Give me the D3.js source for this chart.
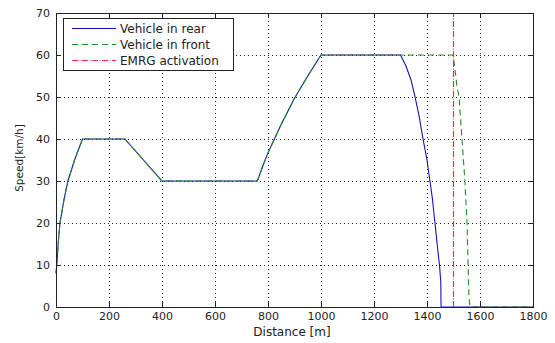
<!DOCTYPE html>
<html><head><meta charset="utf-8">
<script src="https://cdn.jsdelivr.net/npm/d3@7"></script>
<style>
html,body{margin:0;padding:0;background:#fff;}
svg{display:block;font-family:"DejaVu Sans",sans-serif;}
</style></head>
<body>
<svg id="chart" width="555" height="343"></svg>
<script>
// Data
const xTicks = [0, 200, 400, 600, 800, 1000, 1200, 1400, 1600, 1800];
const yTicks = [0, 10, 20, 30, 40, 50, 60, 70];

const rearDist  = [0, 3, 8, 15, 30, 45, 70, 100, 260, 330, 400, 760, 780, 800, 850, 900, 950, 1000, 1300, 1320, 1340, 1355, 1370, 1385, 1400, 1411, 1420, 1430, 1440, 1447, 1452, 1453, 1800];
const rearSpeed = [8, 10, 15, 20, 25.5, 30, 35, 40, 40, 35, 30, 30, 33.5, 36.7, 43.5, 49.7, 55, 60, 60, 57.5, 54, 50, 45.5, 40, 35, 30, 26, 20, 14, 10, 6, 0, 0];

const frontDist  = [0, 3, 8, 15, 30, 45, 70, 100, 260, 330, 400, 760, 780, 800, 850, 900, 950, 1000, 1498, 1505, 1512, 1521, 1532, 1543, 1551, 1555, 1558, 1562, 1800];
const frontSpeed = [8, 10, 15, 20, 25.5, 30, 35, 40, 40, 35, 30, 30, 33.5, 36.7, 43.5, 49.7, 55, 60, 60, 57, 53, 50, 40, 30, 20, 10, 3, 0, 0];

const emrgDist  = [1500, 1500];
const emrgSpeed = [0, 70];

const legendLabels = ["Vehicle in rear", "Vehicle in front", "EMRG activation"];

const colors = {rear: "#1414b4", front: "#1f8f1f", emrg: "#f03050"};

const svg = d3.select("#chart");
const m = {left: 56, right: 533, top: 13, bottom: 307};
const x = d3.scaleLinear().domain([0, 1800]).range([m.left, m.right]);
const y = d3.scaleLinear().domain([0, 70]).range([m.bottom, m.top]);

// grid
const grid = svg.append("g");
grid.selectAll("line.vx").data(xTicks.slice(1, -1)).enter().append("line")
  .attr("x1", d => x(d) + 0.5).attr("x2", d => x(d) + 0.5)
  .attr("y1", m.top).attr("y2", m.bottom)
  .attr("stroke", "#222").attr("stroke-width", 1).attr("stroke-dasharray", "1,3");
grid.selectAll("line.hy").data(yTicks.slice(1, -1)).enter().append("line")
  .attr("y1", d => Math.round(y(d)) + 0.5).attr("y2", d => Math.round(y(d)) + 0.5)
  .attr("x1", m.left).attr("x2", m.right)
  .attr("stroke", "#222").attr("stroke-width", 1).attr("stroke-dasharray", "1,3");

// axes
const fmt = d3.format("d");
const xb = svg.append("g").attr("transform", `translate(0,${m.bottom})`)
  .call(d3.axisBottom(x).tickValues(xTicks).tickFormat(fmt).tickSizeInner(-5).tickSizeOuter(0).tickPadding(5));
const xt = svg.append("g").attr("transform", `translate(0,${m.top})`)
  .call(d3.axisTop(x).tickValues(xTicks).tickFormat("").tickSizeInner(-5).tickSizeOuter(0));
const yl = svg.append("g").attr("transform", `translate(${m.left},0)`)
  .call(d3.axisLeft(y).tickValues(yTicks).tickFormat(fmt).tickSizeInner(-5).tickSizeOuter(0).tickPadding(6));
const yr = svg.append("g").attr("transform", `translate(${m.right},0)`)
  .call(d3.axisRight(y).tickValues(yTicks).tickFormat("").tickSizeInner(-5).tickSizeOuter(0));
[xb, xt, yl, yr].forEach(g => {
  g.select(".domain").remove();
  g.selectAll("line").attr("stroke", "#222");
  g.selectAll("text").attr("font-family", "DejaVu Sans").attr("font-size", 11).attr("fill", "#222");
});

// lines
const line = d3.line().x(d => x(d[0])).y(d => y(d[1]));
svg.append("path").datum(d3.zip(rearDist, rearSpeed)).attr("d", line)
  .attr("fill", "none").attr("stroke", colors.rear).attr("stroke-width", 1.1);
svg.append("path").datum(d3.zip(frontDist, frontSpeed)).attr("d", line)
  .attr("fill", "none").attr("stroke", colors.front).attr("stroke-width", 1.1).attr("stroke-dasharray", "6,4");
svg.append("path").datum(d3.zip(emrgDist, emrgSpeed)).attr("d", line)
  .attr("fill", "none").attr("stroke", colors.emrg).attr("stroke-width", 1.2).attr("stroke-dasharray", "6,1.5,1,1.5");

// box
svg.append("rect").attr("x", m.left + 0.5).attr("y", m.top + 0.5)
  .attr("width", m.right - m.left).attr("height", m.bottom - m.top)
  .attr("fill", "none").attr("stroke", "#222").attr("stroke-width", 1);

// axis labels
svg.append("text").attr("x", 292).attr("y", 336).attr("text-anchor", "middle")
  .attr("font-size", 12).attr("fill", "#222").text("Distance [m]");
svg.append("text").attr("transform", "translate(23,158) rotate(-90)").attr("text-anchor", "middle")
  .attr("font-size", 10.5).attr("fill", "#222").text("Speed[km/h]");

// legend
const lg = svg.append("g");
lg.append("rect").attr("x", 63.5).attr("y", 18.5).attr("width", 170).attr("height", 52)
  .attr("fill", "#fff").attr("stroke", "#222").attr("stroke-width", 1);
const styles = [
  {c: colors.rear, dash: null},
  {c: colors.front, dash: "6,4"},
  {c: colors.emrg, dash: "6,1.5,1,1.5"}
];
const rowY = [28, 44, 60];
legendLabels.forEach((lab, i) => {
  lg.append("line").attr("x1", 72).attr("x2", 116).attr("y1", rowY[i] + 0.5).attr("y2", rowY[i] + 0.5)
    .attr("stroke", styles[i].c).attr("stroke-width", 1.1).attr("stroke-dasharray", styles[i].dash);
  lg.append("text").attr("x", 120).attr("y", rowY[i] + 4.5).attr("font-size", 12).attr("fill", "#222").text(lab);
});
</script>
</body></html>
